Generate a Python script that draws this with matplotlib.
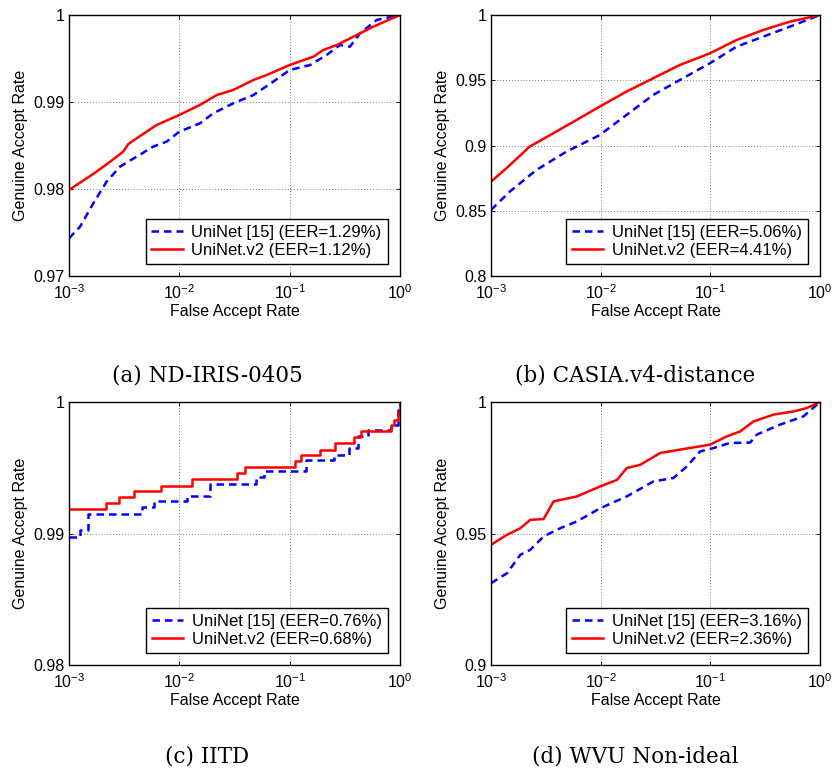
import matplotlib
matplotlib.use("Agg")
import matplotlib.pyplot as plt
from matplotlib.ticker import FixedLocator, FixedFormatter, NullLocator

plt.rcParams['font.family'] = ['Liberation Sans', 'DejaVu Sans']
plt.rcParams['mathtext.fontset'] = 'custom'
plt.rcParams['mathtext.rm'] = 'Liberation Sans'
plt.rcParams['mathtext.it'] = 'Liberation Sans'

# ---------------- data ----------------
series_names = ["UniNet [15]", "UniNet.v2"]

# (a) ND-IRIS-0405
a_uninet_far = [0.001, 0.00126, 0.00166, 0.00219, 0.0029, 0.0041, 0.0058, 0.00767, 0.01, 0.0154,
                0.0203, 0.0308, 0.0469, 0.0711, 0.1, 0.153, 0.216, 0.286, 0.352, 0.434, 0.615, 1.0]
a_uninet_gar = [0.97433, 0.97567, 0.97835, 0.98084, 0.98257, 0.98372, 0.98487, 0.98544, 0.98659, 0.98755,
                0.98870, 0.98985, 0.99080, 0.99234, 0.99368, 0.99425, 0.99540, 0.99655, 0.99636, 0.99789, 0.99943, 1.0]
a_v2_far = [0.001, 0.00145, 0.00178, 0.00236, 0.0031, 0.00345, 0.0041, 0.00623, 0.01, 0.0154,
            0.0218, 0.0308, 0.0469, 0.0619, 0.1, 0.164, 0.202, 0.267, 0.378, 0.573, 1.0]
a_v2_gar = [0.9799, 0.98123, 0.9820, 0.98314, 0.98429, 0.98517, 0.98582, 0.98736, 0.98851, 0.98966,
            0.99080, 0.99138, 0.99253, 0.99310, 0.99425, 0.99521, 0.99598, 0.99655, 0.99751, 0.99866, 1.0]

# (b) CASIA.v4-distance
b_uninet_far = [0.001, 0.00148, 0.00259, 0.00487, 0.0098, 0.0172, 0.0301, 0.0527, 0.099, 0.173, 0.303, 0.532, 1.0]
b_uninet_gar = [0.8506, 0.8646, 0.8812, 0.8953, 0.9080, 0.9234, 0.9387, 0.9502, 0.9630, 0.9757, 0.9834, 0.9911, 1.0]
b_v2_far = [0.001, 0.00138, 0.00225, 0.00368, 0.00601, 0.0098, 0.0172, 0.0301, 0.0527, 0.099, 0.173, 0.303, 0.532, 1.0]
b_v2_gar = [0.8723, 0.8825, 0.8991, 0.9093, 0.9195, 0.9298, 0.9413, 0.9515, 0.9617, 0.9706, 0.9808, 0.9885, 0.9949, 1.0]

# (c) IITD (step curves)
c_uninet_far = [0.001, 0.00126, 0.0015, 0.00458, 0.00585, 0.0117, 0.0191, 0.0491, 0.0585, 0.140,
                0.253, 0.346, 0.412, 0.508, 0.828, 0.952, 1.0]
c_uninet_gar = [0.98977, 0.99028, 0.99150, 0.99200, 0.99244, 0.99287, 0.99378, 0.99426, 0.99472, 0.99561,
                0.99599, 0.99650, 0.99739, 0.99784, 0.99827, 0.99942, 1.0]
c_v2_far = [0.001, 0.00217, 0.00281, 0.0039, 0.00686, 0.013, 0.033, 0.0393, 0.112, 0.126,
            0.187, 0.258, 0.384, 0.442, 0.828, 0.887, 0.952, 1.0]
c_v2_gar = [0.99185, 0.99231, 0.99277, 0.99320, 0.99365, 0.99414, 0.99459, 0.99503, 0.99548, 0.99594,
            0.99637, 0.99688, 0.99731, 0.99777, 0.99822, 0.99865, 0.99916, 1.0]

# (d) WVU Non-ideal
d_uninet_far = [0.001, 0.0014, 0.00185, 0.00228, 0.00302, 0.00428, 0.00607, 0.0099, 0.0173, 0.0303,
                0.0461, 0.0611, 0.0807, 0.107, 0.151, 0.231, 0.265, 0.432, 0.705, 1.0]
d_uninet_gar = [0.9311, 0.9349, 0.9419, 0.9438, 0.9489, 0.9520, 0.9546, 0.9596, 0.9641, 0.9698,
                0.9711, 0.9755, 0.9812, 0.9825, 0.9844, 0.9846, 0.9876, 0.9914, 0.9945, 1.0]
d_v2_far = [0.001, 0.0014, 0.00185, 0.00228, 0.00302, 0.00372, 0.00607, 0.0099, 0.0141, 0.0173,
            0.0229, 0.0349, 0.0531, 0.0996, 0.141, 0.187, 0.247, 0.376, 0.571, 0.757, 1.0]
d_v2_gar = [0.9457, 0.9495, 0.9520, 0.9552, 0.9555, 0.9622, 0.9641, 0.9679, 0.9704, 0.9749,
            0.9761, 0.9806, 0.9819, 0.9838, 0.9869, 0.9888, 0.9926, 0.9952, 0.9964, 0.9977, 1.0]

panels = [
    dict(caption="(a) ND-IRIS-0405", eer=("1.29%", "1.12%"),
         u=(a_uninet_far, a_uninet_gar), v=(a_v2_far, a_v2_gar),
         yticks=[0.97, 0.98, 0.99, 1.0], ylabels=["0.97", "0.98", "0.99", "1"], step=False),
    dict(caption="(b) CASIA.v4-distance", eer=("5.06%", "4.41%"),
         u=(b_uninet_far, b_uninet_gar), v=(b_v2_far, b_v2_gar),
         yticks=[0.8, 0.85, 0.9, 0.95, 1.0], ylabels=["0.8", "0.85", "0.9", "0.95", "1"], step=False),
    dict(caption="(c) IITD", eer=("0.76%", "0.68%"),
         u=(c_uninet_far, c_uninet_gar), v=(c_v2_far, c_v2_gar),
         yticks=[0.98, 0.99, 1.0], ylabels=["0.98", "0.99", "1"], step=True),
    dict(caption="(d) WVU Non-ideal", eer=("3.16%", "2.36%"),
         u=(d_uninet_far, d_uninet_gar), v=(d_v2_far, d_v2_gar),
         yticks=[0.9, 0.95, 1.0], ylabels=["0.9", "0.95", "1"], step=False),
]

xticks = [1e-3, 1e-2, 1e-1, 1e0]
xticklabels = [r"$10^{-3}$", r"$10^{-2}$", r"$10^{-1}$", r"$10^{0}$"]

W, H = 835, 776
fig = plt.figure(figsize=(W / 100, H / 100), dpi=100)

# axes boxes in pixels: left, top, right, bottom
boxes = [(69, 15, 400, 276), (491, 15, 820, 276), (69, 402, 400, 665), (491, 402, 820, 665)]
caption_pos = [(207, 375), (635, 375), (207, 756), (635, 756)]

for p, (l, t, r, b), (cx, cy) in zip(panels, boxes, caption_pos):
    ax = fig.add_axes([l / W, 1 - b / H, (r - l) / W, (b - t) / H])
    ds = 'steps-post' if p['step'] else 'default'
    ax.plot(p['u'][0], p['u'][1], color='#0000ff', linestyle=(0, (3.0, 2.0)), linewidth=1.8,
            drawstyle=ds, label=f"{series_names[0]} (EER={p['eer'][0]})")
    ax.plot(p['v'][0], p['v'][1], color='#ff0000', linestyle='-', linewidth=1.8,
            drawstyle=ds, label=f"{series_names[1]} (EER={p['eer'][1]})")
    ax.set_xscale('log')
    ax.set_xlim(1e-3, 1)
    ax.set_ylim(p['yticks'][0], p['yticks'][-1])
    ax.xaxis.set_major_locator(FixedLocator(xticks))
    ax.xaxis.set_major_formatter(FixedFormatter(xticklabels))
    ax.xaxis.set_minor_locator(NullLocator())
    ax.yaxis.set_major_locator(FixedLocator(p['yticks']))
    ax.yaxis.set_major_formatter(FixedFormatter(p['ylabels']))
    ax.tick_params(direction='in', top=True, right=True, length=3, width=0.6,
                   labelsize=11.5, colors='black')
    ax.tick_params(axis='x', pad=5)
    ax.tick_params(axis='y', pad=3)
    ax.grid(True, which='major', linestyle=(0, (1, 2.5)), color='#555555', linewidth=0.6)
    for s in ax.spines.values():
        s.set_linewidth(1.0)
    ax.set_xlabel("False Accept Rate", fontsize=11.5, labelpad=2)
    ax.set_ylabel("Genuine Accept Rate", fontsize=11.5, labelpad=4)
    leg = ax.legend(loc='lower right', fontsize=12, frameon=True, fancybox=False,
                    edgecolor='black', framealpha=1, handlelength=1.9, handletextpad=0.5,
                    borderpad=0.35, labelspacing=0.15, borderaxespad=0.75)
    leg.get_frame().set_linewidth(1.0)
    fig.text(cx / W, 1 - cy / H, p['caption'], ha='center', va='center',
             fontsize=15.5, family=['DejaVu Serif'])

fig.savefig("out.png", dpi=100)
